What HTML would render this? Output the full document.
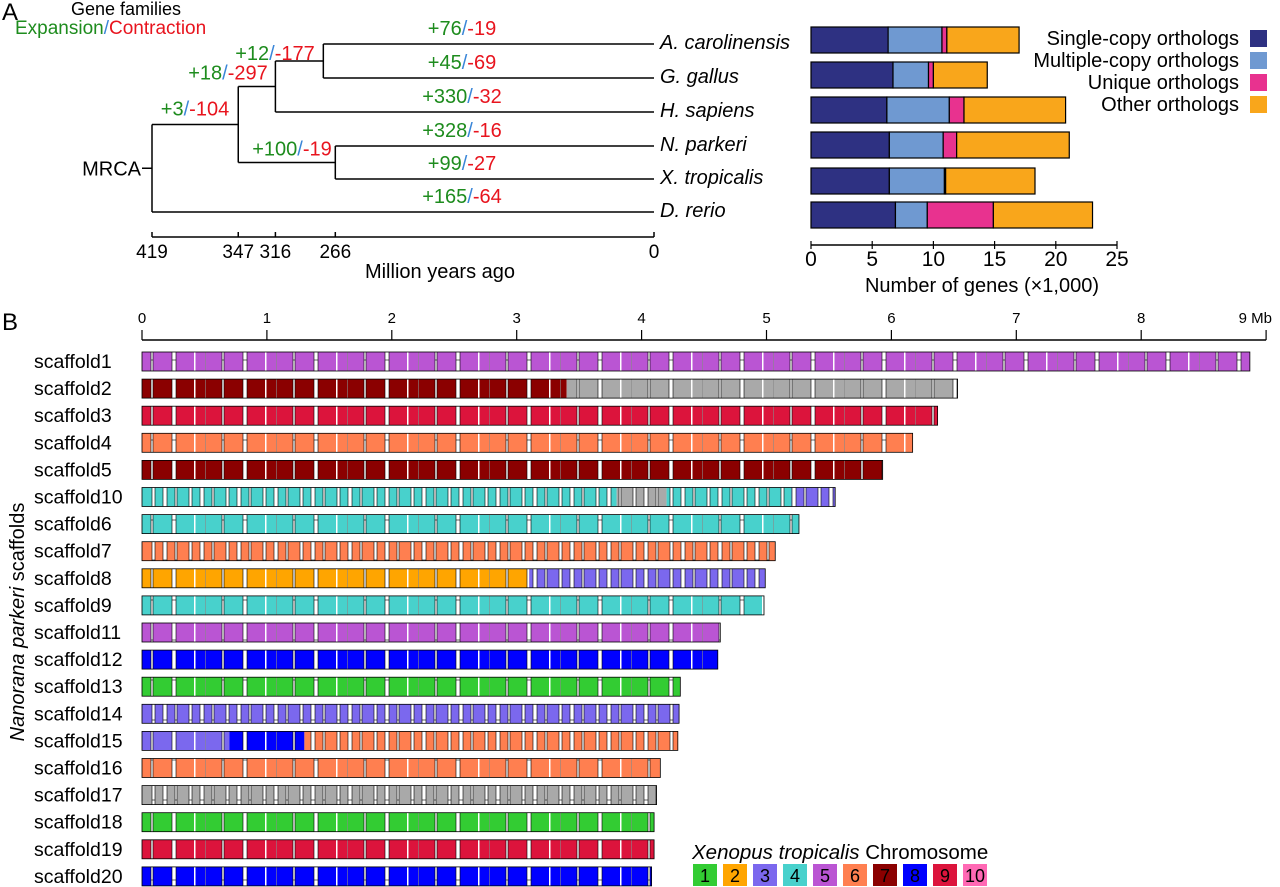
<!DOCTYPE html>
<html><head><meta charset="utf-8">
<style>
html,body{margin:0;padding:0;background:#fff;}
svg{display:block;font-family:"Liberation Sans",Arial,sans-serif;}
</style></head>
<body>
<svg id="fig" width="1280" height="887" viewBox="0 0 1280 887" xmlns="http://www.w3.org/2000/svg">
<defs>
<pattern id="gapsLight" patternUnits="userSpaceOnUse" width="71" height="40">
<rect x="9" y="0" width="2" height="40" fill="#fff" stroke="#000" stroke-width="0.6"/>
<rect x="30" y="0" width="4" height="40" fill="#fff" stroke="#000" stroke-width="0.6"/>
<rect x="52" y="0" width="1.5" height="40" fill="#fff"/>
<rect x="63" y="0" width="1" height="40" fill="#888" opacity="0.6"/>
</pattern>
<pattern id="gapsHeavy" patternUnits="userSpaceOnUse" width="37" height="40">
<rect x="4" y="0" width="3" height="40" fill="#fff" stroke="#000" stroke-width="0.6"/>
<rect x="15" y="0" width="4" height="40" fill="#fff" stroke="#000" stroke-width="0.6"/>
<rect x="27" y="0" width="2" height="40" fill="#fff" stroke="#000" stroke-width="0.6"/>
</pattern>
</defs>
<text x="2" y="20" font-size="24">A</text>
<text x="2" y="330" font-size="24">B</text>
<text x="126" y="15" font-size="18" text-anchor="middle">Gene families</text>
<text x="15" y="34" font-size="19"><tspan fill="#1e8c1e">Expansion</tspan><tspan fill="#3a86d8">/</tspan><tspan fill="#e8141e">Contraction</tspan></text>
<g id="tree"></g>
<g id="bars"></g>
<g id="scaf"></g>
</svg>
<script>
const NS='http://www.w3.org/2000/svg';
function mk(parent,tag,attrs,txt){const e=document.createElementNS(NS,tag);for(const k in attrs)e.setAttribute(k,attrs[k]);if(txt!==undefined)e.textContent=txt;parent.appendChild(e);return e;}

/* ---------- Panel A tree ---------- */
const species=['A. carolinensis','G. gallus','H. sapiens','N. parkeri','X. tropicalis','D. rerio'];
const ageTicks=[419,347,316,266,0];
const nodeAges={root:419,amn:347,sau:316,ag:276,nx:266};
const tipExp=[76,45,330,328,99,165];
const tipCon=[19,69,32,16,27,64];
const tree=document.getElementById('tree');
const ax=a=>654-a*(502/419);
const tipY=[44,78,112,146,179,212];
function ln(x1,y1,x2,y2,name){const l=mk(tree,'line',{x1,y1,x2,y2,stroke:'#000','stroke-width':1.5});

}
const xr=ax(nodeAges.root),xa=ax(nodeAges.amn),xs=ax(nodeAges.sau),xg=ax(nodeAges.ag),xn=ax(nodeAges.nx),xt=ax(0);
const yAG=(tipY[0]+tipY[1])/2,ySau=(yAG+tipY[2])/2,yNX=(tipY[3]+tipY[4])/2,yAmn=(ySau+yNX)/2,yRoot=(yAmn+tipY[5])/2;
ln(xr,yAmn,xr,tipY[5],'root-node');ln(xr-10,yRoot,xr,yRoot,'root-stem');
ln(xr,yAmn,xa,yAmn,'branch-tetrapod');ln(xa,ySau,xa,yNX,'node-tetrapod');
ln(xa,ySau,xs,ySau,'branch-amniote');ln(xs,yAG,xs,tipY[2],'node-amniote');
ln(xs,yAG,xg,yAG,'branch-sauropsid');ln(xg,tipY[0],xg,tipY[1],'node-sauropsid');
ln(xa,yNX,xn,yNX,'branch-anura');ln(xn,tipY[3],xn,tipY[4],'node-anura');
ln(xg,tipY[0],xt,tipY[0],'tip-branch');ln(xg,tipY[1],xt,tipY[1],'tip-branch');
ln(xs,tipY[2],xt,tipY[2],'tip-branch');ln(xn,tipY[3],xt,tipY[3],'tip-branch');
ln(xn,tipY[4],xt,tipY[4],'tip-branch');ln(xr,tipY[5],xt,tipY[5],'tip-branch');
function lab(x,y,e,c,name){const t=mk(tree,'text',{x,y,'font-size':20,'text-anchor':'middle'});


mk(t,'tspan',{fill:'#1e8c1e'},'+'+e);mk(t,'tspan',{fill:'#3a86d8'},'/');mk(t,'tspan',{fill:'#e8141e'},'-'+c);}
species.forEach((s,i)=>{lab(462,tipY[i]-9,tipExp[i],tipCon[i],'branch-change-label');
const t=mk(tree,'text',{x:660,y:tipY[i]+5,'font-size':20,'font-style':'italic'},s);

});
lab(195,yAmn-9,3,104,'node-change-label');lab(228,ySau-7,18,297,'node-change-label');
lab(275,yAG-1,12,177,'node-change-label');lab(292,yNX-7,100,19,'node-change-label');
const mt=mk(tree,'text',{x:141,y:yRoot+7,'font-size':20,'text-anchor':'end'},'MRCA');


ln(ax(419),237,ax(0),237,'time-axis');
ageTicks.forEach(a=>{ln(ax(a),232,ax(a),237,'time-tick');
const t=mk(tree,'text',{x:ax(a),y:258,'font-size':19,'text-anchor':'middle'},a);

});
const tl=mk(tree,'text',{x:440,y:278,'font-size':20,'text-anchor':'middle'},'Million years ago');



/* ---------- Panel A bars ---------- */
const singleCopy=[6.3,6.7,6.2,6.4,6.4,6.9];
const multiCopy=[4.4,2.9,5.1,4.4,4.5,2.6];
const uniqueOrth=[0.4,0.4,1.2,1.1,0.1,5.4];
const otherOrth=[5.9,4.4,8.3,9.2,7.3,8.1];
const geneTicks=[0,5,10,15,20,25];
const catNames=['Single-copy orthologs','Multiple-copy orthologs','Unique orthologs','Other orthologs'];
const catColors=['#2e3182','#6f99d1','#e8328f','#f9a61b'];
const bars=document.getElementById('bars');
const gx=v=>811+v*12.24;
const barTop=[27,62,97,132,168,202];
species.forEach((s,i)=>{let acc=0;
[singleCopy,multiCopy,uniqueOrth,otherOrth].forEach((ser,k)=>{
const r=mk(bars,'rect',{x:gx(acc),y:barTop[i],width:gx(acc+ser[i])-gx(acc),height:26,fill:catColors[k],stroke:'#000','stroke-width':1.2});


acc+=ser[i];});});
const bl=mk(bars,'line',{x1:gx(0),y1:245,x2:gx(25),y2:245,stroke:'#000','stroke-width':1.5});


geneTicks.forEach(v=>{const l=mk(bars,'line',{x1:gx(v),y1:241,x2:gx(v),y2:249,stroke:'#000','stroke-width':1.2});


const t=mk(bars,'text',{x:gx(v),y:266,'font-size':21,'text-anchor':'middle'},v);

});
const gt=mk(bars,'text',{x:982,y:292,'font-size':20,'text-anchor':'middle'},'Number of genes (\u00d71,000)');


catNames.forEach((n,k)=>{const y=38+k*22;
const t=mk(bars,'text',{x:1239,y:y+7,'font-size':20,'text-anchor':'end'},n);


const r=mk(bars,'rect',{x:1250,y:y-8,width:17,height:17,fill:catColors[k]});

});

/* ---------- Panel B scaffolds ---------- */
const scafNames=['scaffold1','scaffold2','scaffold3','scaffold4','scaffold5','scaffold10','scaffold6','scaffold7','scaffold8','scaffold9','scaffold11','scaffold12','scaffold13','scaffold14','scaffold15','scaffold16','scaffold17','scaffold18','scaffold19','scaffold20'];
const scafLengths=[8.87,6.53,6.37,6.17,5.93,5.55,5.26,5.07,4.99,4.98,4.63,4.61,4.31,4.30,4.29,4.15,4.12,4.10,4.10,4.08];
/* segments: [start Mb, end Mb, chromosome (0 = unassigned), heavy gaps] */
const scafSegments=[
[[0,8.87,5,0]],
[[0,3.4,7,0],[3.4,6.53,0,0]],
[[0,6.37,9,0]],
[[0,6.17,6,0]],
[[0,5.93,7,0]],
[[0,3.8,4,1],[3.8,4.2,0,1],[4.2,5.2,4,1],[5.2,5.55,3,1]],
[[0,5.26,4,0]],
[[0,5.07,6,1]],
[[0,3.1,2,0],[3.1,4.99,3,1]],
[[0,4.98,4,0]],
[[0,4.63,5,0]],
[[0,4.61,8,0]],
[[0,4.31,1,0]],
[[0,4.30,3,1]],
[[0,0.7,3,0],[0.7,1.3,8,0],[1.3,4.29,6,1]],
[[0,4.15,6,0]],
[[0,4.12,0,1]],
[[0,4.10,1,0]],
[[0,4.10,9,0]],
[[0,4.08,8,0]]];
const mbTicks=[0,1,2,3,4,5,6,7,8,9];
const chromColors=['#a9a9a9','#33cc33','#ffa500','#7b68ee','#48d1cc','#ba55d3','#ff7f50','#8b0000','#0000ff','#dc143c','#ff69b4'];
const scaf=document.getElementById('scaf');
const mx=v=>142+v*124.9;
const al=mk(scaf,'line',{x1:mx(0),y1:340,x2:mx(9),y2:340,stroke:'#000','stroke-width':1.5});


mbTicks.forEach(v=>{const l=mk(scaf,'line',{x1:mx(v),y1:330,x2:mx(v),y2:340,stroke:'#000','stroke-width':1.2});


const t=mk(scaf,'text',{x:v===9?mx(v)+4:mx(v),y:323,'font-size':15,'text-anchor':v===9?'end':'middle'},v===9?'9 Mb':v);
if(v===9){t.setAttribute('x',1272);}

});
scafNames.forEach((n,i)=>{const y0=352+i*27.1;
const t=mk(scaf,'text',{x:34,y:y0+16,'font-size':19.5},n);


scafSegments[i].forEach(sg=>{
const r=mk(scaf,'rect',{x:mx(sg[0]),y:y0,width:mx(sg[1])-mx(sg[0]),height:19,fill:chromColors[sg[2]]});


const o=mk(scaf,'rect',{x:mx(sg[0]),y:y0,width:mx(sg[1])-mx(sg[0]),height:19,fill:sg[3]?'url(#gapsHeavy)':'url(#gapsLight)'});

});
const b=mk(scaf,'rect',{x:mx(0),y:y0,width:mx(scafLengths[i])-mx(0),height:19,fill:'none',stroke:'#000','stroke-width':0.8});

});
const yt=mk(scaf,'text',{x:0,y:0,'font-size':20,'text-anchor':'middle',transform:'translate(24,622) rotate(-90)'});


mk(yt,'tspan',{'font-style':'italic'},'Nanorana parkeri');mk(yt,'tspan',{},' scaffolds');
const lt=mk(scaf,'text',{x:692,y:859,'font-size':20.5});


mk(lt,'tspan',{'font-style':'italic'},'Xenopus tropicalis');mk(lt,'tspan',{},' Chromosome');
for(let c=1;c<=10;c++){const x=693+(c-1)*30;
const r=mk(scaf,'rect',{x,y:864,width:24,height:22,fill:chromColors[c]});


const t=mk(scaf,'text',{x:x+12,y:882,'font-size':18,'text-anchor':'middle'},c);

}
</script>
</body></html>
